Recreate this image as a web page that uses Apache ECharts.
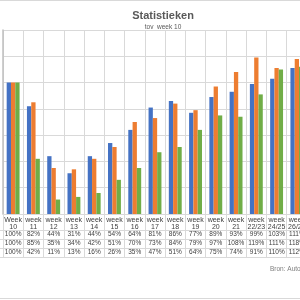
<!DOCTYPE html>
<html>
<head>
<meta charset="utf-8">
<script src="https://cdn.jsdelivr.net/npm/echarts@6/dist/echarts.min.js"></script>
<style>
  html, body { margin: 0; padding: 0; background: #fff; overflow: hidden; }
  #chart { width: 310px; height: 300px; }
</style>
</head>
<body>
<div id="chart"></div>
<script>
var weken = ['Week 10', 'week 11', 'week 12', 'week 13', 'week 14', 'week 15', 'week 16', 'week 17',
    'week 18', 'week 19', 'week 20', 'week 21', 'week 22/23', 'week 24/25', 'week 26/27'];
var reeks1 = [100, 82, 44, 31, 44, 54, 64, 81, 86, 77, 89, 93, 99, 103, 111];  // blauw
var reeks2 = [100, 85, 35, 34, 42, 51, 70, 73, 84, 79, 97, 108, 119, 111, 118]; // oranje
var reeks3 = [100, 42, 11, 13, 16, 26, 35, 47, 51, 64, 75, 74, 91, 110, 112];  // groen

var dom = document.getElementById('chart');
var myChart = echarts.init(dom);

var tekstKleur = '#404040';
var lijnKleur = '#d9d9d9';

function maakSerie(naam, data) {
    return {
        name: naam,
        type: 'bar',
        barWidth: 4.3,
        barGap: 0,
        data: data
    };
}

var option = {
    backgroundColor: '#fff',
    animation: false,
    color: ['#4472c4', '#ed7d31', '#70ad47'],
    title: {
        text: 'Statistieken',
        subtext: 'tov  week 10',
        left: 158,
        top: 5,
        textAlign: 'center',
        itemGap: 3,
        textStyle: { color: '#595959', fontSize: 11, fontWeight: 'bold', fontFamily: 'Liberation Sans' },
        subtextStyle: { color: '#595959', fontSize: 6.5, fontFamily: 'Liberation Sans' }
    },
    grid: {
        left: 3,
        right: 3, // grafiek loopt rechts buiten beeld door
        top: 30,
        bottom: 86
    },
    xAxis: {
        type: 'category',
        data: weken,
        axisLine: { show: true, lineStyle: { color: lijnKleur, width: 1 } },
        axisTick: {
            show: true,
            interval: 0,
            length: 43,
            lineStyle: { color: lijnKleur }
        },
        splitLine: { show: true, interval: 0, lineStyle: { color: lijnKleur, width: 1 } },
        axisLabel: {
            interval: 0,
            margin: 3,
            verticalAlign: 'top',
            formatter: function (val, i) {
                var kop = val.split(' ');
                return '{h|' + kop[0] + '}\n{h|' + kop[1] + '}\n{v|' + reeks1[i] + '%}\n{v|' +
                    reeks2[i] + '%}\n{v|' + reeks3[i] + '%}';
            },
            rich: {
                h: { fontSize: 7, lineHeight: 6.5, color: tekstKleur, fontFamily: 'Liberation Sans' },
                v: { fontSize: 6.5, lineHeight: 9, color: tekstKleur, fontFamily: 'Liberation Sans' }
            }
        }
    },
    yAxis: {
        type: 'value',
        min: 0,
        max: 140,
        interval: 20,
        axisLabel: { show: false },
        axisTick: { show: false },
        axisLine: { show: true, lineStyle: { color: '#bfbfbf', width: 1.5 } },
        splitLine: { show: true, lineStyle: { color: lijnKleur, width: 1 } }
    },
    graphic: [
        // tabel lijnen onder de grafiek
        { type: 'line', shape: { x1: 0, y1: 230.5, x2: 310, y2: 230.5 }, style: { stroke: lijnKleur, lineWidth: 1 } },
        { type: 'line', shape: { x1: 0, y1: 239.5, x2: 310, y2: 239.5 }, style: { stroke: lijnKleur, lineWidth: 1 } },
        { type: 'line', shape: { x1: 0, y1: 248.5, x2: 310, y2: 248.5 }, style: { stroke: lijnKleur, lineWidth: 1 } },
        { type: 'line', shape: { x1: 0, y1: 257.5, x2: 310, y2: 257.5 }, style: { stroke: lijnKleur, lineWidth: 1 } },
        // kader
        { type: 'line', shape: { x1: 0, y1: 0.5, x2: 310, y2: 0.5 }, style: { stroke: '#d9d9d9', lineWidth: 1 } },
        { type: 'line', shape: { x1: 0, y1: 298.5, x2: 310, y2: 298.5 }, style: { stroke: '#d9d9d9', lineWidth: 1 } },
        {
            type: 'text', left: 270, top: 266,
            style: { text: 'Bron: Autotelex', fill: '#7f7f7f', fontSize: 6.5, fontFamily: 'Liberation Sans' }
        }
    ],
    series: [
        maakSerie('Reeks 1', reeks1),
        maakSerie('Reeks 2', reeks2),
        maakSerie('Reeks 3', reeks3)
    ]
};

myChart.setOption(option);
</script>
</body>
</html>
